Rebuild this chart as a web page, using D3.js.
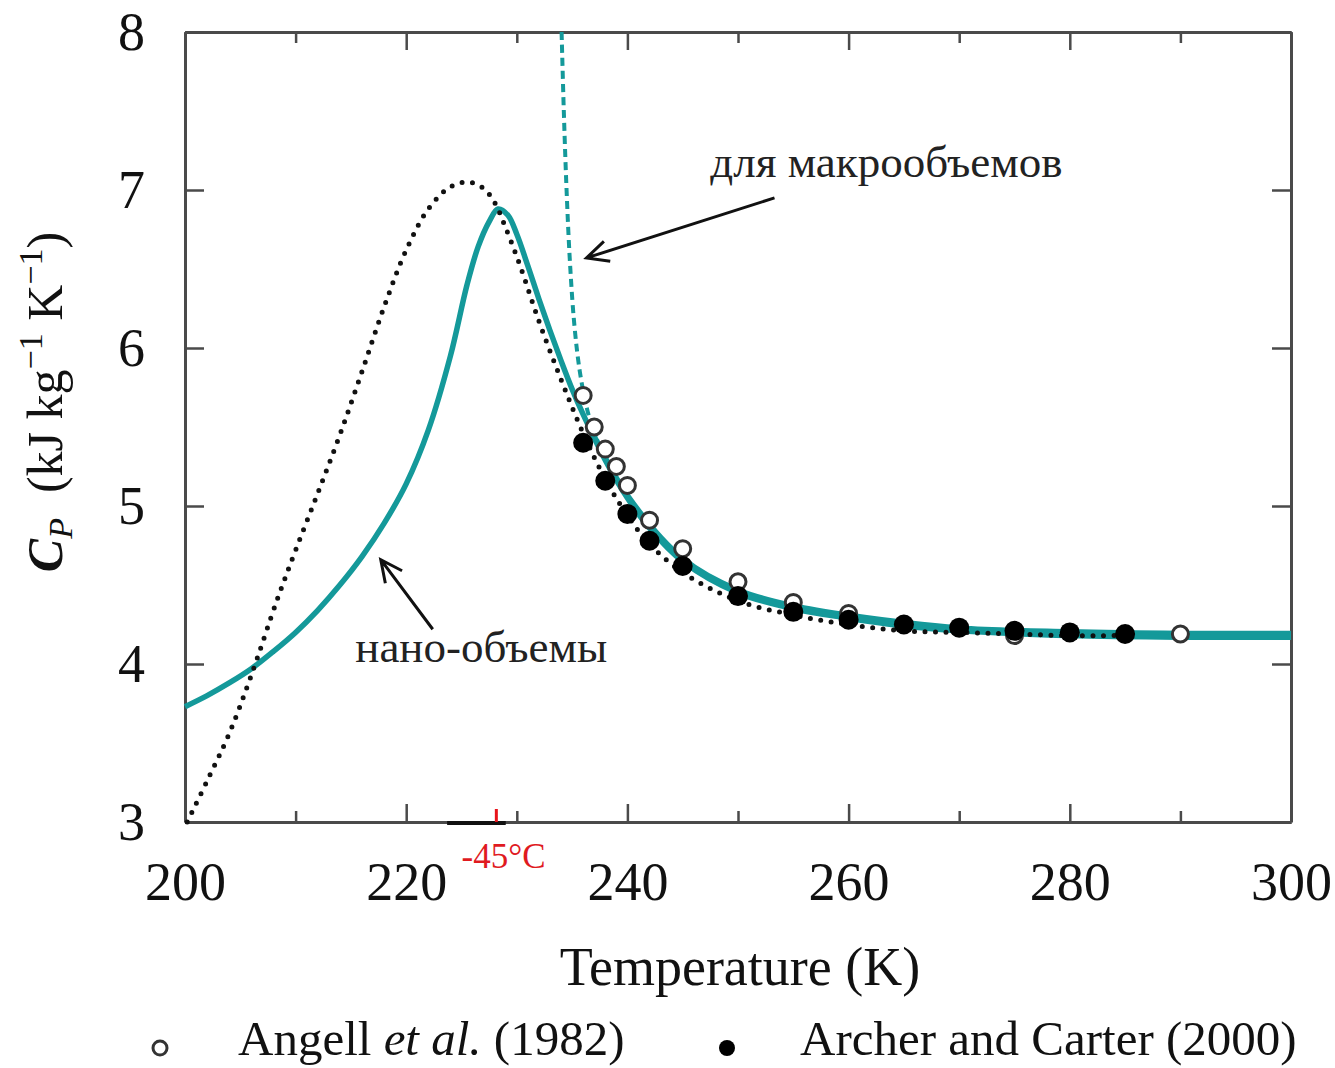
<!DOCTYPE html>
<html>
<head>
<meta charset="utf-8">
<script src="https://cdn.jsdelivr.net/npm/d3@7"></script>
<style>
  body { margin: 0; background: #fff; }
  text { font-family: "Liberation Serif", "Times New Roman", serif; }
</style>
</head>
<body>
<div id="chart"></div>
<script>
// tick values
var xTicks = [200, 220, 240, 260, 280, 300];
var xMinor = [210, 230, 250, 270, 290];
var yTicks = [3, 4, 5, 6, 7, 8];

// teal solid curve (nano volumes), [T, Cp]
var nanoCurve = [
  [200, 3.73], [202, 3.80], [204, 3.88], [206, 3.97], [208, 4.08], [210, 4.20],
  [212, 4.34], [214, 4.50], [216, 4.68], [218, 4.89], [220, 5.14], [222, 5.48],
  [224, 5.95], [225.5, 6.40], [226.5, 6.64], [227.5, 6.80], [228.3, 6.88],
  [229.2, 6.84], [230, 6.72], [231, 6.52], [232, 6.31], [233, 6.11], [234, 5.92],
  [235, 5.74], [236, 5.58], [238, 5.29], [240, 5.05], [242, 4.86], [245, 4.65],
  [250, 4.45], [255, 4.35], [260, 4.29], [265, 4.24], [270, 4.21],
  [280, 4.18], [290, 4.17], [300, 4.17]
];

// teal dashed curve (bulk), diverging part
var macroDashed = [
  [234.05, 8.0], [234.25, 7.5], [234.5, 7.0], [234.8, 6.55], [235.2, 6.15],
  [235.7, 5.85], [236.4, 5.6], [237.2, 5.42]
];
// bulk curve continuing solid under the nano curve
var macroSolid = [
  [237.2, 5.42], [240, 5.07], [245, 4.67], [250, 4.47], [255, 4.37], [260, 4.31],
  [270, 4.23], [280, 4.205], [290, 4.195], [300, 4.195]
];

// black dotted curve
var dottedCurve = [
  [200.2, 3.0], [202, 3.26], [204, 3.56], [206, 3.93], [208.3, 4.40], [210, 4.72],
  [212, 5.08], [214, 5.45], [216, 5.85], [218, 6.26], [220, 6.62], [222, 6.88],
  [224, 7.02], [225.7, 7.05], [227, 7.01], [228, 6.92], [229, 6.76], [230.3, 6.52],
  [232, 6.17], [234, 5.80], [236, 5.46], [238, 5.17], [240, 4.94], [242, 4.76],
  [245, 4.58], [250, 4.40], [255, 4.31], [260, 4.25], [265, 4.21], [270, 4.20],
  [275, 4.19], [280, 4.18], [285, 4.18]
];

// Angell et al. (1982), open circles
var angellT  = [236, 237, 238, 239, 240, 242, 245, 250, 255, 260, 275, 290];
var angellCp = [5.70, 5.50, 5.36, 5.25, 5.13, 4.91, 4.73, 4.52, 4.39, 4.32, 4.18, 4.19];

// Archer and Carter (2000), filled circles
var archerT  = [236, 238, 240, 242, 245, 250, 255, 260, 265, 270, 275, 280, 285];
var archerCp = [5.40, 5.16, 4.95, 4.78, 4.62, 4.43, 4.33, 4.28, 4.25, 4.23, 4.21, 4.20, 4.19];

var teal = "#14999a";
var serif = "'Liberation Serif', 'Times New Roman', serif";

var svgWidth = 1335, svgHeight = 1068;
var margin = { top: 32, left: 185, right: 44, bottom: 246 };
var width = svgWidth - margin.left - margin.right;
var height = svgHeight - margin.top - margin.bottom;

var svg = d3.select("#chart").append("svg")
  .attr("width", svgWidth)
  .attr("height", svgHeight);

var g = svg.append("g")
  .attr("transform", `translate(${margin.left}, ${margin.top})`);

var x = d3.scaleLinear().domain([200, 300]).range([0, width]);
var y = d3.scaleLinear().domain([3, 8]).range([height, 0]);

var axisColor = "#4a4a4a";

function styleAxis(sel) {
  sel.selectAll("path.domain").attr("stroke", axisColor).attr("stroke-width", 3);
  sel.selectAll(".tick line").attr("stroke", axisColor).attr("stroke-width", 2.5);
  sel.selectAll(".tick text")
    .attr("fill", "#111")
    .style("font-size", "54px")
    .style("font-family", serif);
}

// bottom axis with labels
g.append("g")
  .attr("transform", `translate(0, ${height})`)
  .call(d3.axisBottom(x).tickValues(xTicks).tickSize(-18).tickSizeOuter(0)
    .tickPadding(40).tickFormat(d3.format("d")))
  .call(styleAxis);

g.append("g")
  .attr("transform", `translate(0, ${height})`)
  .call(d3.axisBottom(x).tickValues(xMinor).tickSize(-11).tickSizeOuter(0).tickFormat(""))
  .call(styleAxis);

// top axis
g.append("g")
  .call(d3.axisTop(x).tickValues(xTicks).tickSize(-18).tickSizeOuter(0).tickFormat(""))
  .call(styleAxis);
g.append("g")
  .call(d3.axisTop(x).tickValues(xMinor).tickSize(-11).tickSizeOuter(0).tickFormat(""))
  .call(styleAxis);

// left axis with labels
g.append("g")
  .call(d3.axisLeft(y).tickValues(yTicks).tickSize(-19).tickSizeOuter(0)
    .tickPadding(40).tickFormat(d3.format("d")))
  .call(styleAxis);

// right axis
g.append("g")
  .attr("transform", `translate(${width}, 0)`)
  .call(d3.axisRight(y).tickValues(yTicks).tickSize(-19).tickSizeOuter(0).tickFormat(""))
  .call(styleAxis);

// the -45 °C marker on the bottom axis
g.append("line")
  .attr("x1", x(223.7)).attr("x2", x(229))
  .attr("y1", height + 1).attr("y2", height + 1)
  .attr("stroke", "#111").attr("stroke-width", 4);
g.append("line")
  .attr("x1", x(228.15)).attr("x2", x(228.15))
  .attr("y1", height).attr("y2", height - 13)
  .attr("stroke", "#e8141b").attr("stroke-width", 3);
g.append("text")
  .attr("x", x(228.8)).attr("y", height + 46)
  .attr("text-anchor", "middle")
  .attr("fill", "#e01a1f")
  .style("font-family", serif)
  .style("font-size", "35px")
  .text("-45°C");

var line = d3.line()
  .x(d => x(d[0]))
  .y(d => y(d[1]))
  .curve(d3.curveCatmullRom.alpha(0.5));

// curves
g.append("path").datum(macroSolid)
  .attr("d", line).attr("fill", "none")
  .attr("stroke", teal).attr("stroke-width", 5);

g.append("path").datum(nanoCurve)
  .attr("d", line).attr("fill", "none")
  .attr("stroke", teal).attr("stroke-width", 5.5);

g.append("path").datum(macroDashed)
  .attr("d", line).attr("fill", "none")
  .attr("stroke", teal).attr("stroke-width", 4)
  .attr("stroke-dasharray", "8 5");

g.append("path").datum(dottedCurve)
  .attr("d", line).attr("fill", "none")
  .attr("stroke", "#111").attr("stroke-width", 5)
  .attr("stroke-linecap", "round")
  .attr("stroke-dasharray", "0 10.5");

// data points
g.selectAll("circle.angell")
  .data(angellT)
  .enter()
  .append("circle")
  .attr("class", "angell")
  .attr("cx", d => x(d))
  .attr("cy", (d, i) => y(angellCp[i]))
  .attr("r", 8)
  .attr("fill", "#fff")
  .attr("stroke", "#333")
  .attr("stroke-width", 3);

g.selectAll("circle.archer")
  .data(archerT)
  .enter()
  .append("circle")
  .attr("class", "archer")
  .attr("cx", d => x(d))
  .attr("cy", (d, i) => y(archerCp[i]))
  .attr("r", 10)
  .attr("fill", "#000");

// annotation arrows: [tailT, tailCp, tipT, tipCp]
function arrow(a) {
  var x1 = x(a[0]), y1 = y(a[1]), x2 = x(a[2]), y2 = y(a[3]);
  var ang = Math.atan2(y1 - y2, x1 - x2);
  var len = 24, spread = 0.45;
  var p = `M${x1},${y1}L${x2},${y2}` +
    `M${x2 + len * Math.cos(ang + spread)},${y2 + len * Math.sin(ang + spread)}` +
    `L${x2},${y2}` +
    `L${x2 + len * Math.cos(ang - spread)},${y2 + len * Math.sin(ang - spread)}`;
  g.append("path").attr("d", p)
    .attr("fill", "none").attr("stroke", "#111").attr("stroke-width", 3);
}
arrow([253.3, 6.95, 236.3, 6.57]);
arrow([222.4, 4.22, 217.7, 4.66]);

g.append("text")
  .attr("x", x(247.5)).attr("y", y(7.08))
  .attr("fill", "#222")
  .style("font-size", "45px")
  .text("для макрообъемов");

g.append("text")
  .attr("x", x(215.4)).attr("y", y(4.01))
  .attr("fill", "#222")
  .style("font-size", "45px")
  .text("нано-объемы");

// axis titles
g.append("text")
  .attr("x", width / 2 + 2)
  .attr("y", height + 163)
  .attr("text-anchor", "middle")
  .attr("fill", "#111")
  .style("font-size", "54px")
  .text("Temperature (K)");

var yTitle = svg.append("text")
  .attr("transform", "translate(62, 402) rotate(-90)")
  .attr("text-anchor", "middle")
  .attr("fill", "#111")
  .style("font-size", "50px");
yTitle.append("tspan").style("font-style", "italic").style("font-weight", "bold").text("C");
yTitle.append("tspan").style("font-style", "italic").style("font-size", "34px").attr("dy", 10).text("P");
yTitle.append("tspan").attr("dy", -10).text("\u2002(kJ kg");
yTitle.append("tspan").style("font-size", "34px").attr("dy", -20).text("\u22121");
yTitle.append("tspan").attr("dy", 20).text(" K");
yTitle.append("tspan").style("font-size", "34px").attr("dy", -20).text("\u22121");
yTitle.append("tspan").attr("dy", 20).text(")");

// legend
svg.append("circle")
  .attr("cx", 160).attr("cy", 1048).attr("r", 7)
  .attr("fill", "#fff").attr("stroke", "#333").attr("stroke-width", 3);
var leg1 = svg.append("text")
  .attr("x", 238).attr("y", 1055)
  .attr("fill", "#111")
  .style("font-size", "49px");
leg1.append("tspan").text("Angell ");
leg1.append("tspan").style("font-style", "italic").text("et al.");
leg1.append("tspan").text(" (1982)");

svg.append("circle")
  .attr("cx", 727).attr("cy", 1048).attr("r", 8)
  .attr("fill", "#000");
svg.append("text")
  .attr("x", 800).attr("y", 1055)
  .attr("fill", "#111")
  .style("font-size", "49px")
  .text("Archer and Carter (2000)");
</script>
</body>
</html>
